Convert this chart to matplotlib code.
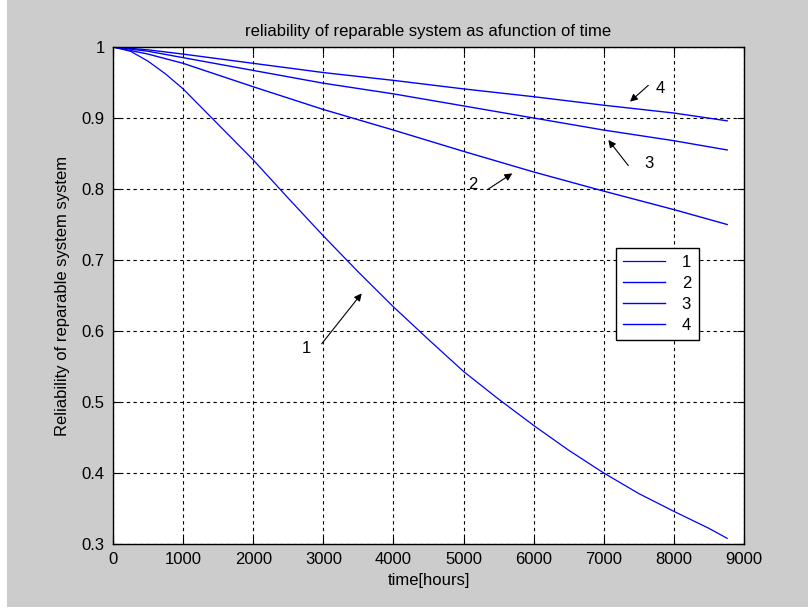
import matplotlib
matplotlib.use("Agg")
import matplotlib.pyplot as plt
from matplotlib.patches import Rectangle

plt.rcParams["font.family"] = ["Liberation Sans", "DejaVu Sans"]

# curve 1 read at finer steps (it bends the most)
hours_1 = [0, 250, 500, 750, 1000, 1500, 2000, 2500, 3000, 3500, 4000,
           4500, 5000, 5500, 6000, 6500, 7000, 7500, 8000, 8500, 8760]
rel_1 = [1.000, 0.994, 0.980, 0.962, 0.941, 0.891, 0.841, 0.787, 0.734, 0.683, 0.634,
         0.588, 0.543, 0.504, 0.467, 0.432, 0.400, 0.371, 0.346, 0.322, 0.308]

hours = [0, 500, 1000, 2000, 3000, 4000, 5000, 6000, 7000, 8000, 8760]
rel_2 = [1.000, 0.990, 0.977, 0.944, 0.912, 0.883, 0.853, 0.824, 0.797, 0.771, 0.750]
rel_3 = [1.000, 0.994, 0.985, 0.967, 0.949, 0.934, 0.917, 0.900, 0.883, 0.868, 0.855]
rel_4 = [1.000, 0.996, 0.990, 0.977, 0.964, 0.953, 0.941, 0.930, 0.918, 0.907, 0.896]

labels = ["1", "2", "3", "4"]
x_ticks = list(range(0, 9001, 1000))
y_ticks = [0.3, 0.4, 0.5, 0.6, 0.7, 0.8, 0.9, 1.0]
y_tick_labels = ["0.3", "0.4", "0.5", "0.6", "0.7", "0.8", "0.9", "1"]

FS = 12
fig = plt.figure(figsize=(8.08, 6.12), dpi=100, facecolor="white")
# matlab grey figure area (thin white strip left and bottom)
fig.patches.append(Rectangle((7 / 808, 5 / 612), 1, 1, transform=fig.transFigure,
                             facecolor="#cccccc", edgecolor="none", zorder=-10))

ax = fig.add_axes([113 / 808, 1 - 544 / 612, 631 / 808, 497 / 612])
ax.set_facecolor("white")

ax.plot(hours_1, rel_1, color="#0000ff", lw=0.9, label=labels[0])
ax.plot(hours, rel_2, color="#0000ff", lw=1.0, label=labels[1])
ax.plot(hours, rel_3, color="#0000ff", lw=1.0, label=labels[2])
ax.plot(hours, rel_4, color="#0000ff", lw=1.0, label=labels[3])

ax.set_xlim(0, 9000)
ax.set_ylim(0.3, 1.0)
ax.set_xticks(x_ticks)
ax.set_yticks(y_ticks)
ax.set_yticklabels(y_tick_labels)
ax.tick_params(direction="in", length=5, width=0.8, top=True, right=True,
               labelsize=FS, pad=6)
ax.grid(True, color="black", linestyle=(0, (3, 3)), linewidth=0.8)
for s in ax.spines.values():
    s.set_linewidth(1.0)
    s.set_color("black")

ax.set_title("reliability of reparable system as afunction of time", fontsize=FS, pad=8)
ax.set_xlabel("time[hours]", fontsize=FS, labelpad=4)
ax.set_ylabel("Reliability of reparable system system", fontsize=FS, labelpad=8)

arrow = dict(arrowstyle="-|>", color="black", lw=0.8, mutation_scale=11,
             shrinkA=0, shrinkB=0)
ax.annotate("", xy=(3547, 0.653), xytext=(2977, 0.582), arrowprops=arrow)
ax.text(2760, 0.575, "1", fontsize=FS, ha="center", va="center")
ax.annotate("", xy=(5695, 0.822), xytext=(5339, 0.799), arrowprops=arrow)
ax.text(5135, 0.807, "2", fontsize=FS, ha="center", va="center")
ax.annotate("", xy=(7065, 0.869), xytext=(7350, 0.833), arrowprops=arrow)
ax.text(7651, 0.836, "3", fontsize=FS, ha="center", va="center")
ax.annotate("", xy=(7374, 0.923), xytext=(7635, 0.946), arrowprops=arrow)
ax.text(7803, 0.941, "4", fontsize=FS, ha="center", va="center")

leg = ax.legend(loc="upper left", bbox_to_anchor=(0.797, 0.596), fontsize=FS,
                fancybox=False, shadow=False, framealpha=1, edgecolor="black",
                handlelength=2.5, handletextpad=1.0, labelspacing=0.35,
                borderpad=0.45, borderaxespad=0)
leg.get_frame().set_linewidth(1.0)

fig.savefig("out.png", dpi=100, facecolor=fig.get_facecolor())
